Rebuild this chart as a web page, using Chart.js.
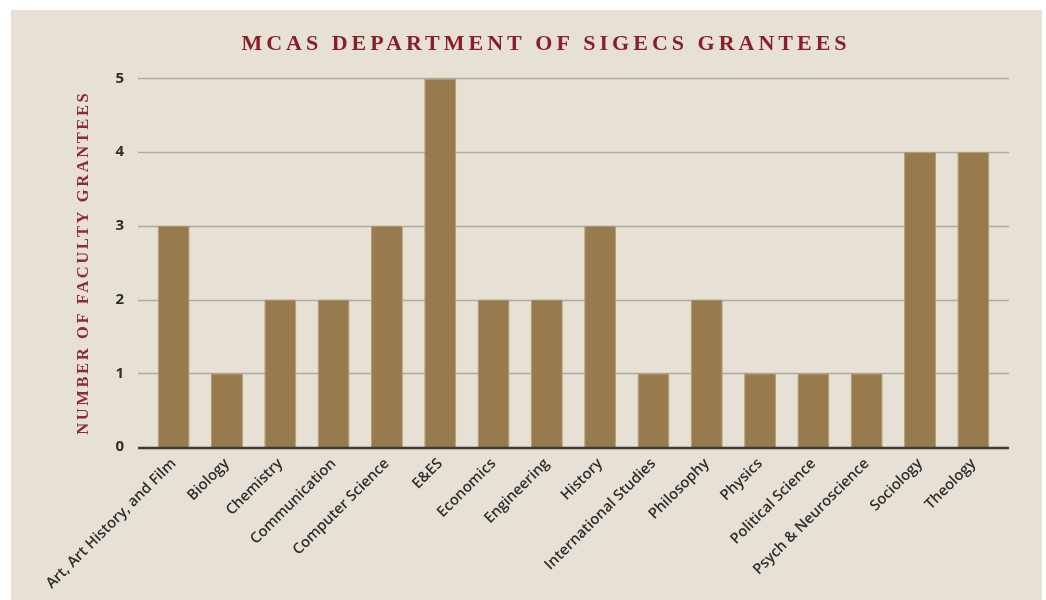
<!DOCTYPE html>
<html>
<head>
<meta charset="utf-8">
<script src="https://cdn.jsdelivr.net/npm/chart.js@4"></script>
<style>
  body { margin: 0; background: #fff; }
  #panel { position: absolute; left: 11px; top: 10px; width: 1031px; height: 590px; background: #e7e0d5; }
  #wrap { position: absolute; left: 0; top: 0; width: 1046px; height: 600px; }
</style>
</head>
<body>
<div id="panel"></div>
<div id="wrap"><canvas id="myChart" width="1046" height="600"></canvas></div>
<script>
// chart data
const departments = ['Art, Art History, and Film', 'Biology', 'Chemistry', 'Communication', 'Computer Science',
  'E&ES', 'Economics', 'Engineering', 'History', 'International Studies', 'Philosophy', 'Physics',
  'Political Science', 'Psych & Neuroscience', 'Sociology', 'Theology'];
const grantees = [3, 1, 2, 2, 3, 5, 2, 2, 3, 1, 2, 1, 1, 1, 4, 4];
const yTicks = [0, 1, 2, 3, 4, 5];

const red = '#8b1e2e';

// letter spacing for the caps titles (canvas ctx.letterSpacing)
function spaced(fn, sp) {
  return function () {
    const c = this.ctx;
    c.save();
    c.letterSpacing = sp;
    fn.apply(this, arguments);
    c.restore();
  };
}
const spacing = {
  id: 'spacing',
  afterUpdate(chart) {
    const y = chart.scales.y;
    if (!y._sp) { y.drawTitle = spaced(y.drawTitle, '2.6px'); y._sp = true; }
    const t = chart.titleBlock;
    if (t && !t._sp) { t.draw = spaced(t.draw, '4px'); t._sp = true; }
  },
  afterLayout(chart) {
    // title sits a little right of the canvas centre
    const t = chart.titleBlock;
    t.left += 11;
    t.right += 11;
  }
};

// grid lines run a bit past the plot on both sides
const gridLines = {
  id: 'gridLines',
  beforeDatasetsDraw(chart) {
    const { ctx, chartArea, scales } = chart;
    ctx.save();
    ctx.strokeStyle = '#b0aaa1';
    ctx.lineWidth = 1.5;
    yTicks.forEach(v => {
      if (v == 0) return;
      const y = Math.round(scales.y.getPixelForValue(v)) + 0.5;
      ctx.beginPath();
      ctx.moveTo(chartArea.left - 9, y);
      ctx.lineTo(chartArea.right + 9, y);
      ctx.stroke();
    });
    ctx.restore();
  },
  afterDatasetsDraw(chart) {
    const { ctx, chartArea, scales } = chart;
    const y = scales.y.getPixelForValue(0) + 1;
    ctx.save();
    ctx.strokeStyle = '#3b3b3b';
    ctx.lineWidth = 2.5;
    ctx.beginPath();
    ctx.moveTo(chartArea.left - 9, y);
    ctx.lineTo(chartArea.right + 9, y);
    ctx.stroke();
    ctx.restore();
  }
};

const ctx = document.getElementById('myChart');
const myChart = new Chart(ctx, {
  type: 'bar',
  data: {
    labels: departments,
    datasets: [{
      label: 'grantees',
      data: grantees,
      backgroundColor: '#977b4c',
      borderColor: '#b39c78',
      borderWidth: 1,
      categoryPercentage: 1,
      barPercentage: 0.6
    }]
  },
  plugins: [spacing, gridLines],
  options: {
    responsive: false,
    animation: false,
    layout: { padding: { left: 70, right: 46, top: 0, bottom: 0 } },
    plugins: {
      legend: { display: false },
      tooltip: { enabled: false },
      title: {
        display: true,
        text: 'MCAS DEPARTMENT OF SIGECS GRANTEES',
        color: red,
        font: { family: 'Liberation Serif', size: 22, weight: 'bold' },
        padding: { top: 31, bottom: 21 }
      }
    },
    scales: {
      x: {
        grid: { display: false, drawTicks: false },
        border: { display: false },
        afterFit(s) { s.height = 153; },
        ticks: {
          autoSkip: false,
          minRotation: 45,
          maxRotation: 45,
          padding: 8,
          color: '#2e2e2e',
          font: { family: 'Open Sans', size: 14.8, weight: 600 }
        }
      },
      y: {
        min: 0,
        max: 5,
        afterFit(s) { s.width = 77; },
        afterBuildTicks(s) { s.ticks = yTicks.map(v => ({ value: v })); },
        grid: { display: false, drawTicks: false },
        border: { display: false },
        ticks: {
          padding: 23,
          color: '#2e2e2e',
          font: { family: 'Open Sans', size: 15, weight: 'bold' }
        },
        title: {
          display: true,
          text: 'NUMBER OF FACULTY GRANTEES',
          color: '#8e2a38',
          padding: { top: 4, bottom: 0 },
          font: { family: 'Liberation Serif', size: 16.5, weight: 'bold' }
        }
      }
    }
  }
});
</script>
</body>
</html>
